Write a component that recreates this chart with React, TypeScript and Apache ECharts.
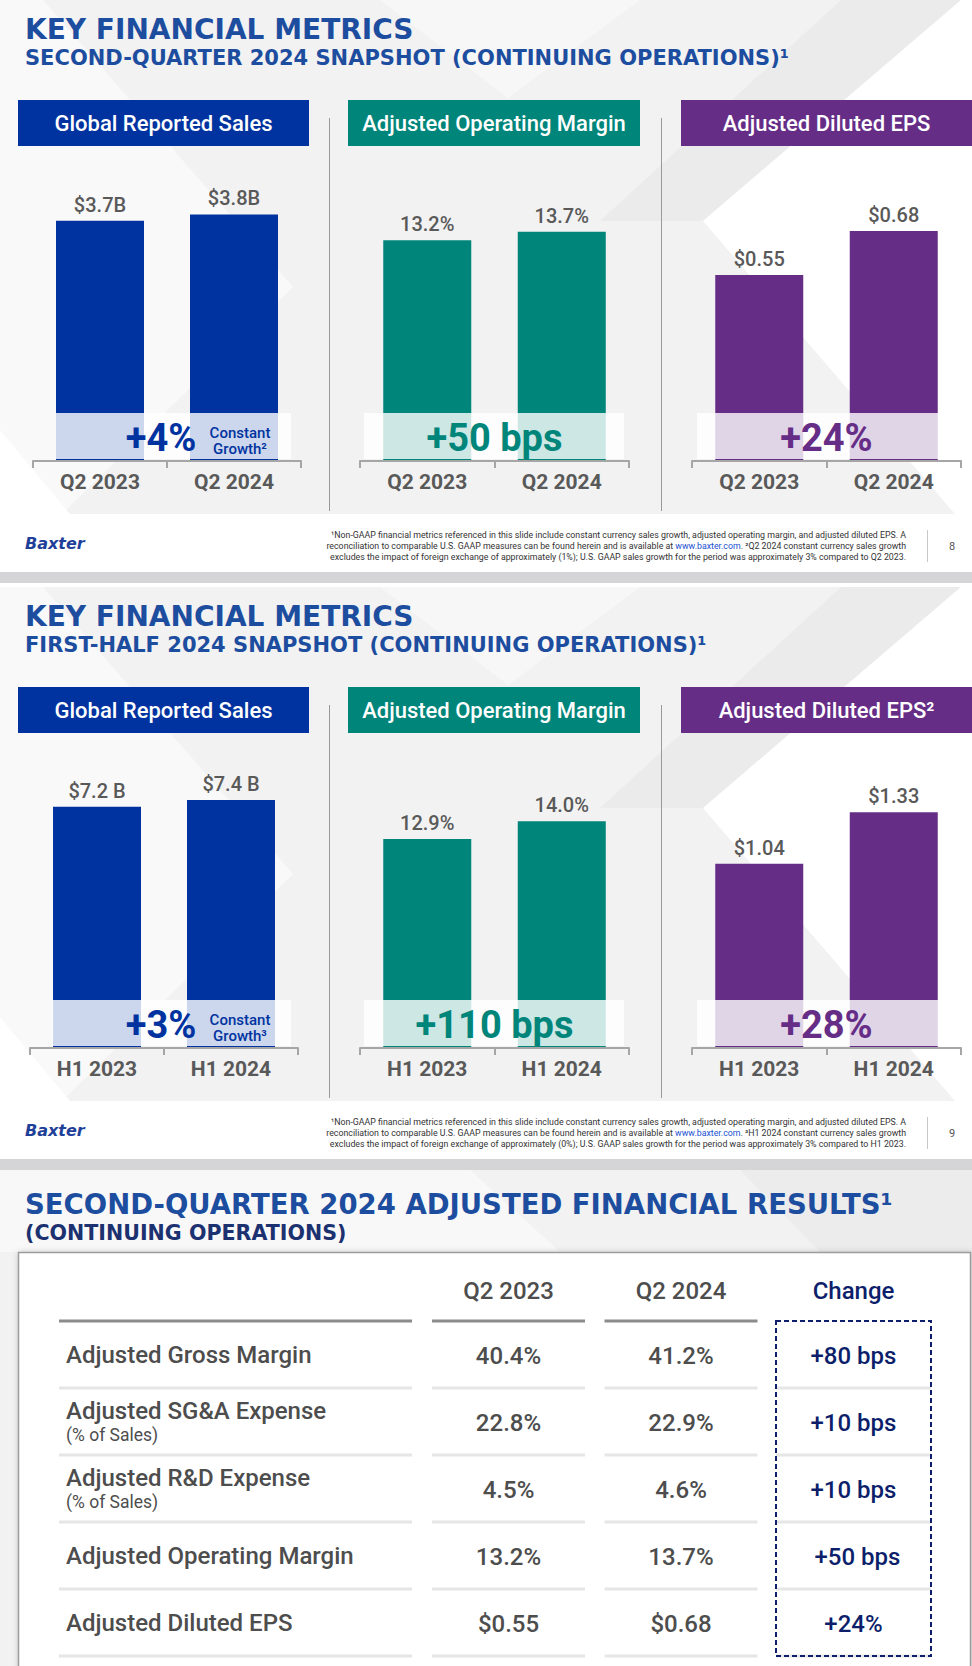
import React, { useEffect, useRef } from 'react';
import * as echarts from 'echarts';

// ---------- DATA ----------
const q2Categories = ['Q2 2023', 'Q2 2024'];
const h1Categories = ['H1 2023', 'H1 2024'];
const q2Sales = [3.7, 3.8];
const q2Margin = [13.2, 13.7];
const q2Eps = [0.55, 0.68];
const h1Sales = [7.2, 7.4];
const h1Margin = [12.9, 14.0];
const h1Eps = [1.04, 1.33];
const q2Changes = ['+4%', '+50 bps', '+24%'];
const h1Changes = ['+3%', '+110 bps', '+28%'];
const panelHeaders = ['Global Reported Sales', 'Adjusted Operating Margin', 'Adjusted Diluted EPS'];
const panelHeadersH1 = ['Global Reported Sales', 'Adjusted Operating Margin', 'Adjusted Diluted EPS²'];

const tableColumns = ['Q2 2023', 'Q2 2024', 'Change'];
const tableRows = ['Adjusted Gross Margin', 'Adjusted SG&A Expense', 'Adjusted R&D Expense', 'Adjusted Operating Margin', 'Adjusted Diluted EPS'];
const tableRowNotes = ['', '(% of Sales)', '(% of Sales)', '', ''];
const tableQ2_2023 = ['40.4%', '22.8%', '4.5%', '13.2%', '$0.55'];
const tableQ2_2024 = ['41.2%', '22.9%', '4.6%', '13.7%', '$0.68'];
const tableChange = ['+80 bps', '+10 bps', '+10 bps', '+50 bps', '+24%'];

const footnotesQ2 = [
  '¹Non-GAAP financial metrics referenced in this slide include constant currency sales growth, adjusted operating margin, and adjusted diluted EPS. A',
  'reconciliation to comparable U.S. GAAP measures can be found herein and is available at {l|www.baxter.com}. ²Q2 2024 constant currency sales growth',
  'excludes the impact of foreign exchange of approximately (1%); U.S. GAAP sales growth for the period was approximately 3% compared to Q2 2023.',
];
const footnotesH1 = [
  '¹Non-GAAP financial metrics referenced in this slide include constant currency sales growth, adjusted operating margin, and adjusted diluted EPS. A',
  'reconciliation to comparable U.S. GAAP measures can be found herein and is available at {l|www.baxter.com}. ³H1 2024 constant currency sales growth',
  'excludes the impact of foreign exchange of approximately (0%); U.S. GAAP sales growth for the period was approximately 3% compared to H1 2023.',
];

// ---------- STYLE ----------
const BLUE = '#0033a0';
const TEAL = '#00857a';
const PURPLE = '#662d87';
const GRAY_TEXT = '#595959';
const TABLE_TEXT = '#4d4d4d';
const TITLE_BLUE = '#1d4d9f';
const NAVY = '#0d1f6b';
const AXIS_GRAY = '#a6a6a6';

const App: React.FC = () => {
  const ref = useRef<HTMLDivElement>(null);

  useEffect(() => {
    document.body.style.margin = '0';
    if (!ref.current) return;
    const chart = echarts.init(ref.current, undefined, { renderer: 'svg' });

    const grids: any[] = [];
    const xAxes: any[] = [];
    const yAxes: any[] = [];
    const series: any[] = [];
    const graphics: any[] = [];

    const txt = (text: string, x: number, y: number, font: string, fill: string, align = 'left', vAlign = 'middle', z = 12, extra: any = {}) => ({
      type: 'text',
      z,
      silent: true,
      style: { text, x, y, font, fill, align, textAlign: align, verticalAlign: vAlign, textVerticalAlign: vAlign, ...extra },
    });
    const poly = (pts: number[][], fill: string, z = 0) => ({ type: 'polygon', z, silent: true, shape: { points: pts }, style: { fill } });
    const rect = (x: number, y: number, w: number, h: number, style: any, z = 1) => ({ type: 'rect', z, silent: true, shape: { x, y, width: w, height: h }, style });
    const line = (x1: number, y1: number, x2: number, y2: number, stroke: string, lineWidth: number, z = 1, extra: any = {}) => ({
      type: 'line', z, silent: true, shape: { x1, y1, x2, y2 }, style: { stroke, lineWidth, ...extra },
    });

    const slideBackground = (oy: number) => {
      const h = 514;
      graphics.push(rect(0, oy, 972, h, { fill: '#f2f2f2' }, 0));
      graphics.push(poly([[0, oy], [43, oy], [293, oy + 287], [62, oy + h], [0, oy + h]], '#f9f9f9', 0));
      graphics.push(poly([[380, oy], [640, oy], [508, oy + 98]], '#f7f7f7', 0));
      graphics.push(poly([[841, oy], [961, oy], [703, oy + 221], [600, oy + 221]], '#ebebeb', 0));
      graphics.push(poly([[961, oy], [972, oy], [972, oy + h], [955, oy + h], [703, oy + 221]], '#ffffff', 0));
      graphics.push(poly([[0, oy + 430], [70, oy + h], [0, oy + h]], '#ffffff', 0));
    };

    const slides = [
      {
        oy: 0,
        title: 'KEY FINANCIAL METRICS',
        subtitle: 'SECOND-QUARTER 2024 SNAPSHOT (CONTINUING OPERATIONS)¹',
        cats: q2Categories,
        headers: panelHeaders,
        changes: q2Changes,
        growthNote: 'Constant\nGrowth²',
        footnotes: footnotesQ2,
        page: '8',
        panels: [
          { left: 33, right: 301, color: BLUE, values: q2Sales, max: 300 / 64.9, fmt: (v: number) => `$${v.toFixed(1)}B`, band: [56, 291] },
          { left: 360, right: 629, color: TEAL, values: q2Margin, max: 300 / 16.73, fmt: (v: number) => `${v.toFixed(1)}%`, band: [364, 624] },
          { left: 692, right: 961, color: PURPLE, values: q2Eps, max: 300 / 338.2, fmt: (v: number) => `$${v.toFixed(2)}`, band: [697, 939] },
        ],
      },
      {
        oy: 587,
        title: 'KEY FINANCIAL METRICS',
        subtitle: 'FIRST-HALF 2024 SNAPSHOT (CONTINUING OPERATIONS)¹',
        cats: h1Categories,
        headers: panelHeadersH1,
        changes: h1Changes,
        growthNote: 'Constant\nGrowth³',
        footnotes: footnotesH1,
        page: '9',
        panels: [
          { left: 30, right: 298, color: BLUE, values: h1Sales, max: 300 / 33.5, fmt: (v: number) => `$${v.toFixed(1)} B`, band: [52, 291] },
          { left: 360, right: 629, color: TEAL, values: h1Margin, max: 300 / 16.2, fmt: (v: number) => `${v.toFixed(1)}%`, band: [364, 624] },
          { left: 692, right: 961, color: PURPLE, values: h1Eps, max: 300 / 177.2, fmt: (v: number) => `$${v.toFixed(2)}`, band: [697, 939] },
        ],
      },
    ];

    const headerBoxes = [[18, 309], [348, 640], [681, 972]];
    const headerColors = [BLUE, TEAL, PURPLE];

    slides.forEach((s, si) => {
      const oy = s.oy;
      slideBackground(oy);
      // titles
      graphics.push(txt(s.title, 25, oy + 29, 'bold 28px "DejaVu Sans"', TITLE_BLUE));
      graphics.push(txt(s.subtitle, 25, oy + 58, 'bold 21px "DejaVu Sans"', TITLE_BLUE));
      // separators
      graphics.push(line(329.5, oy + 118, 329.5, oy + 511, '#9a9a9a', 1));
      graphics.push(line(661.5, oy + 118, 661.5, oy + 511, '#9a9a9a', 1));
      // footer
      graphics.push(txt('Baxter', 25, oy + 543, 'italic bold 16px "DejaVu Sans"', '#1f3f99'));
      s.footnotes.forEach((f, i) => {
        graphics.push(txt(f, 906, oy + 535 + i * 11, '8.8px Roboto', '#333333', 'right', 'middle', 12, { rich: { l: { fill: '#1a4fd0', font: '8.8px Roboto' } } }));
      });
      graphics.push(line(927.5, oy + 530, 927.5, oy + 562, '#c8c8c8', 1));
      graphics.push(txt(s.page, 952, oy + 546, '11px Roboto', '#555555', 'center'));
      if (si === 0) {
        graphics.push(rect(0, 572, 972, 11, { fill: '#d5d5d7' }, 0));
      } else {
        graphics.push(rect(0, 1159, 972, 11, { fill: '#d5d5d7' }, 0));
      }

      s.panels.forEach((p, k) => {
        const gi = si * 3 + k;
        // header box
        const hb = headerBoxes[k];
        graphics.push(rect(hb[0], oy + 100, hb[1] - hb[0], 46, { fill: headerColors[k] }, 1));
        graphics.push(txt(s.headers[k], (hb[0] + hb[1]) / 2, oy + 123, '500 22px Roboto', '#ffffff', 'center'));

        grids.push({ left: p.left, top: 161 + oy, width: p.right - p.left, height: 300, outerBoundsMode: 'none', containLabel: false });
        xAxes.push({
          type: 'category',
          gridIndex: gi,
          z: 20,
          data: s.cats,
          axisLine: { show: true, lineStyle: { color: AXIS_GRAY, width: 2 } },
          axisTick: { show: true, length: 7, lineStyle: { color: AXIS_GRAY, width: 2 } },
          axisLabel: { margin: 10, fontSize: 21, fontWeight: 'bold', color: GRAY_TEXT, fontFamily: 'Roboto' },
          splitLine: { show: false },
        });
        yAxes.push({ type: 'value', gridIndex: gi, min: 0, max: p.max, show: false, splitLine: { show: false } });
        series.push({
          type: 'bar',
          xAxisIndex: gi,
          yAxisIndex: gi,
          data: p.values,
          barWidth: 88,
          silent: true,
          itemStyle: { color: p.color },
          label: {
            show: true,
            position: 'top',
            distance: 6,
            formatter: (prm: any) => p.fmt(prm.value),
            fontSize: 20,
            fontWeight: 500,
            color: GRAY_TEXT,
            fontFamily: 'Roboto',
          },
        });
        // translucent band
        graphics.push(rect(p.band[0], oy + 413, p.band[1] - p.band[0], 46, { fill: 'rgba(255,255,255,0.8)' }, 10));
        if (k === 0) {
          graphics.push(txt(s.changes[0], 161, oy + 438, 'bold 38px Roboto', BLUE, 'center'));
          graphics.push(txt(s.growthNote, 240, oy + 441, '500 15px Roboto', BLUE, 'center', 'middle', 12, { lineHeight: 16 }));
        } else {
          graphics.push(txt(s.changes[k], (p.left + p.right) / 2, oy + 438, 'bold 38px Roboto', p.color, 'center'));
        }
      });
    });

    // ---------- Slide 3 : table ----------
    const t0 = 1170;
    graphics.push(rect(0, t0, 972, 496, { fill: '#f2f2f2' }, 0));
    graphics.push(poly([[0, t0], [470, t0], [560, 1252], [0, 1252]], '#f8f8f8', 0));
    graphics.push(poly([[740, t0], [972, t0], [972, 1252], [820, 1252]], '#ececec', 0));
    graphics.push(txt('SECOND-QUARTER 2024 ADJUSTED FINANCIAL RESULTS¹', 25, 1204, 'bold 27.5px "DejaVu Sans"', TITLE_BLUE));
    graphics.push(txt('(CONTINUING OPERATIONS)', 25, 1233, 'bold 20.6px "DejaVu Sans"', '#1c3170'));
    graphics.push(rect(18.5, 1252.5, 952, 430, { fill: '#ffffff', stroke: '#9c9c9c', lineWidth: 1.5, shadowBlur: 6, shadowColor: 'rgba(0,0,0,0.25)', shadowOffsetX: 1, shadowOffsetY: 1 }, 1));
    graphics.push(rect(776, 1321, 155, 335, { fill: 'none', stroke: NAVY, lineWidth: 2, lineDash: [5, 3] }, 15));

    const tgi = 6;
    const colW = 172.5;
    const tLeft = 508.5 - colW / 2;
    grids.push({ left: tLeft, top: 1321, width: colW * 3, height: 335, outerBoundsMode: 'none', containLabel: false });
    xAxes.push({
      type: 'category',
      gridIndex: tgi,
      z: 20,
      position: 'top',
      data: tableColumns,
      axisLine: { show: false },
      axisTick: { show: false },
      splitLine: { show: false },
      axisLabel: {
        margin: 18,
        fontSize: 24,
        fontWeight: 500,
        fontFamily: 'Roboto',
        color: (v: string) => (v === 'Change' ? NAVY : TABLE_TEXT),
      },
    });
    yAxes.push({
      type: 'category',
      gridIndex: tgi,
      z: 20,
      inverse: true,
      data: tableRows,
      axisLine: { show: false },
      axisTick: { show: false },
      splitLine: { show: false },
      axisLabel: {
        align: 'left',
        margin: tLeft - 66,
        formatter: (v: string, i: number) => (tableRowNotes[i] ? `{main|${v}}\n{note|${tableRowNotes[i]}}` : `{main|${v}}`),
        rich: {
          main: { fontSize: 24, fontWeight: 500, fontFamily: 'Roboto', color: TABLE_TEXT, lineHeight: 27 },
          note: { fontSize: 17.5, fontFamily: 'Roboto', color: TABLE_TEXT, lineHeight: 22 },
        },
      },
    });
    const tableCols = [tableQ2_2023, tableQ2_2024, tableChange];
    const cellData: number[][] = [];
    tableCols.forEach((_, j) => tableRows.forEach((__, i) => cellData.push([j, i])));
    series.push({
      type: 'custom',
      xAxisIndex: tgi,
      yAxisIndex: tgi,
      silent: true,
      data: cellData,
      z: 5,
      renderItem: (params: any, api: any) => {
        const j = api.value(0);
        const i = api.value(1);
        const c = api.coord([j, i]);
        const bandH = api.size([0, 1])[1];
        const children: any[] = [];
        const half = j === 2 ? 77.5 : 76.5;
        const yb = c[1] + bandH / 2;
        const yt = c[1] - bandH / 2;
        children.push({ type: 'line', shape: { x1: c[0] - half, y1: yb, x2: c[0] + half, y2: yb }, style: { stroke: '#e6e6e6', lineWidth: 3 } });
        if (j === 0) {
          children.push({ type: 'line', shape: { x1: 59, y1: yb, x2: 412, y2: yb }, style: { stroke: '#e6e6e6', lineWidth: 3 } });
        }
        if (i === 0 && j < 2) {
          children.push({ type: 'line', shape: { x1: c[0] - half, y1: yt, x2: c[0] + half, y2: yt }, style: { stroke: '#8c8c8c', lineWidth: 3 } });
          if (j === 0) children.push({ type: 'line', shape: { x1: 59, y1: yt, x2: 412, y2: yt }, style: { stroke: '#8c8c8c', lineWidth: 3 } });
        }
        children.push({
          type: 'text',
          style: {
            text: tableCols[j][i],
            x: c[0] + (j === 2 && i === 3 ? 4 : 0),
            y: c[1] + 1,
            font: '500 24px Roboto',
            fill: j === 2 ? NAVY : TABLE_TEXT,
            align: 'center',
            verticalAlign: 'middle',
          },
        });
        return { type: 'group', children };
      },
    });

    chart.setOption({
      animation: false,
      backgroundColor: '#ffffff',
      grid: grids,
      xAxis: xAxes,
      yAxis: yAxes,
      series,
      graphic: { elements: graphics },
    });

    return () => chart.dispose();
  }, []);

  return <div ref={ref} style={{ width: 972, height: 1666, display: 'block' }} />;
};

export default App;
